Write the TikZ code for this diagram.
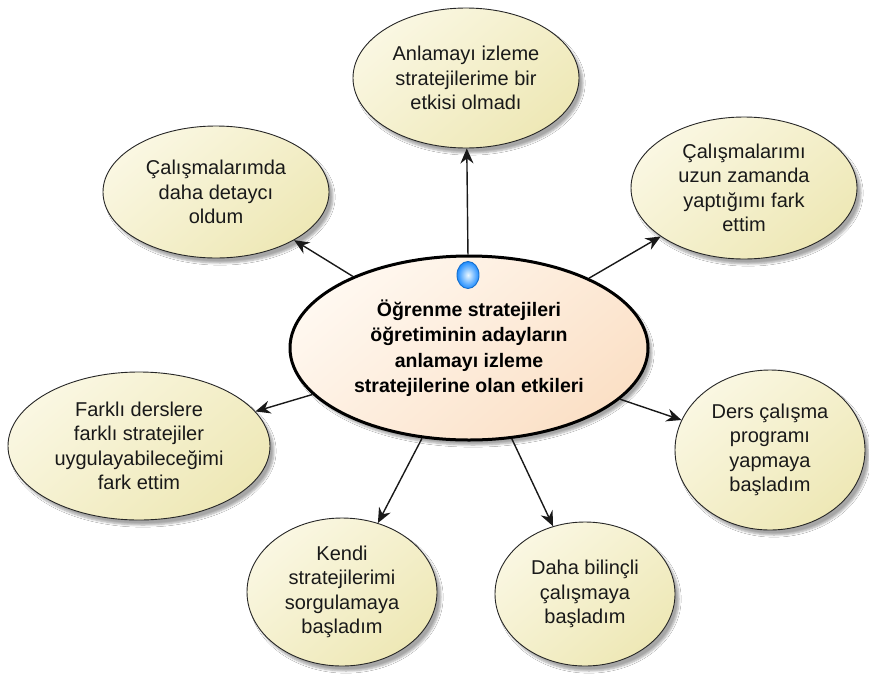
\documentclass[tikz,border=0pt]{standalone}
\usepackage{fontspec}
\setmainfont{Liberation Sans}
\usetikzlibrary{shapes.geometric,arrows.meta,shadows.blur,backgrounds}

\definecolor{leafA}{RGB}{250,247,226}
\definecolor{leafB}{RGB}{238,232,182}
\definecolor{hubA}{RGB}{255,248,240}
\definecolor{hubB}{RGB}{251,224,198}
\definecolor{inkline}{RGB}{25,25,25}
\definecolor{orb}{RGB}{30,140,255}
\definecolor{orbin}{RGB}{235,248,255}

\tikzset{
  leaf/.style={ellipse, draw=black!85, line width=0.9pt, inner sep=0pt,
    shading=axis, top color=leafA, bottom color=leafB, shading angle=40,
    align=center, text=black!90, font=\fontsize{20}{24.5}\selectfont,
    blur shadow={shadow xshift=4pt, shadow yshift=-5pt, shadow opacity=35,
      shadow blur steps=6}},
  hub/.style={ellipse, draw=black, line width=3pt, inner sep=0pt,
    shading=axis, top color=hubA, bottom color=hubB, shading angle=40,
    align=center, font=\bfseries\fontsize{19.5}{25.5}\selectfont,
    blur shadow={shadow xshift=4pt, shadow yshift=-5pt, shadow opacity=35,
      shadow blur steps=6}},
  conn/.style={draw=inkline, line width=1.4pt,
    -{Stealth[length=15pt,width=13pt,inset=5pt]}},
  ghost/.style={draw=black!7, line width=1.4pt,
    -{Stealth[length=15pt,width=13pt,inset=5pt]},
    transform canvas={xshift=17pt,yshift=-18pt}},
}

\begin{document}
\begin{tikzpicture}[x=1pt,y=-1pt]
  \useasboundingbox[fill=white] (0,0) rectangle (869,675);

  % outer ideas
  \node[leaf, minimum width=226pt, minimum height=140pt] (t)  at (466,78)
    {Anlamayı izleme\\stratejilerime bir\\etkisi olmadı};
  \node[leaf, minimum width=226pt, minimum height=132pt] (tl) at (216,192)
    {Çalışmalarımda\\daha detaycı\\oldum};
  \node[leaf, minimum width=226pt, minimum height=142pt] (tr) at (744,188)
    {Çalışmalarımı\\uzun zamanda\\yaptığımı fark\\ettim};
  \node[leaf, minimum width=262pt, minimum height=148pt] (l)  at (139,446)
    {Farklı derslere\\farklı stratejiler\\uygulayabileceğimi\\fark ettim};
  \node[leaf, minimum width=190pt, minimum height=160pt] (r)  at (770,450)
    {Ders çalışma\\programı\\yapmaya\\başladım};
  \node[leaf, minimum width=190pt, minimum height=148pt] (bl) at (342,592)
    {Kendi\\stratejilerimi\\sorgulamaya\\başladım};
  \node[leaf, minimum width=180pt, minimum height=144pt] (br) at (585,594)
    {Daha bilinçli\\çalışmaya\\başladım};

  % central topic
  \node[hub, minimum width=358pt, minimum height=184pt] (c) at (469,348)
    {Öğrenme stratejileri\\öğretiminin adayların\\anlamayı izleme\\stratejilerine olan etkileri};

  % connector marker on the central topic
  \node[ellipse, minimum width=22pt, minimum height=27pt, inner sep=0pt,
    draw=orb!80!black, line width=0.9pt, shading=radial,
    inner color=orbin, outer color=orb] (knob) at (468,275) {};

  % connectors
  \draw[conn] (c) -- (t);
  \draw[conn] (c) -- (tl);
  \draw[conn] (c) -- (tr);
  \draw[conn] (c) -- (l);
  \draw[conn] (c) -- (r);
  \draw[conn] (c) -- (bl);
  \draw[conn] (c) -- (br);

  % faint connector shadows
  \begin{pgfonlayer}{background}
    \draw[ghost] (c) -- (t);
    \draw[ghost] (c) -- (tl);
    \draw[ghost] (c) -- (tr);
    \draw[ghost] (c) -- (l);
    \draw[ghost] (c) -- (r);
    \draw[ghost] (c) -- (bl);
    \draw[ghost] (c) -- (br);
  \end{pgfonlayer}
\end{tikzpicture}
\end{document}
